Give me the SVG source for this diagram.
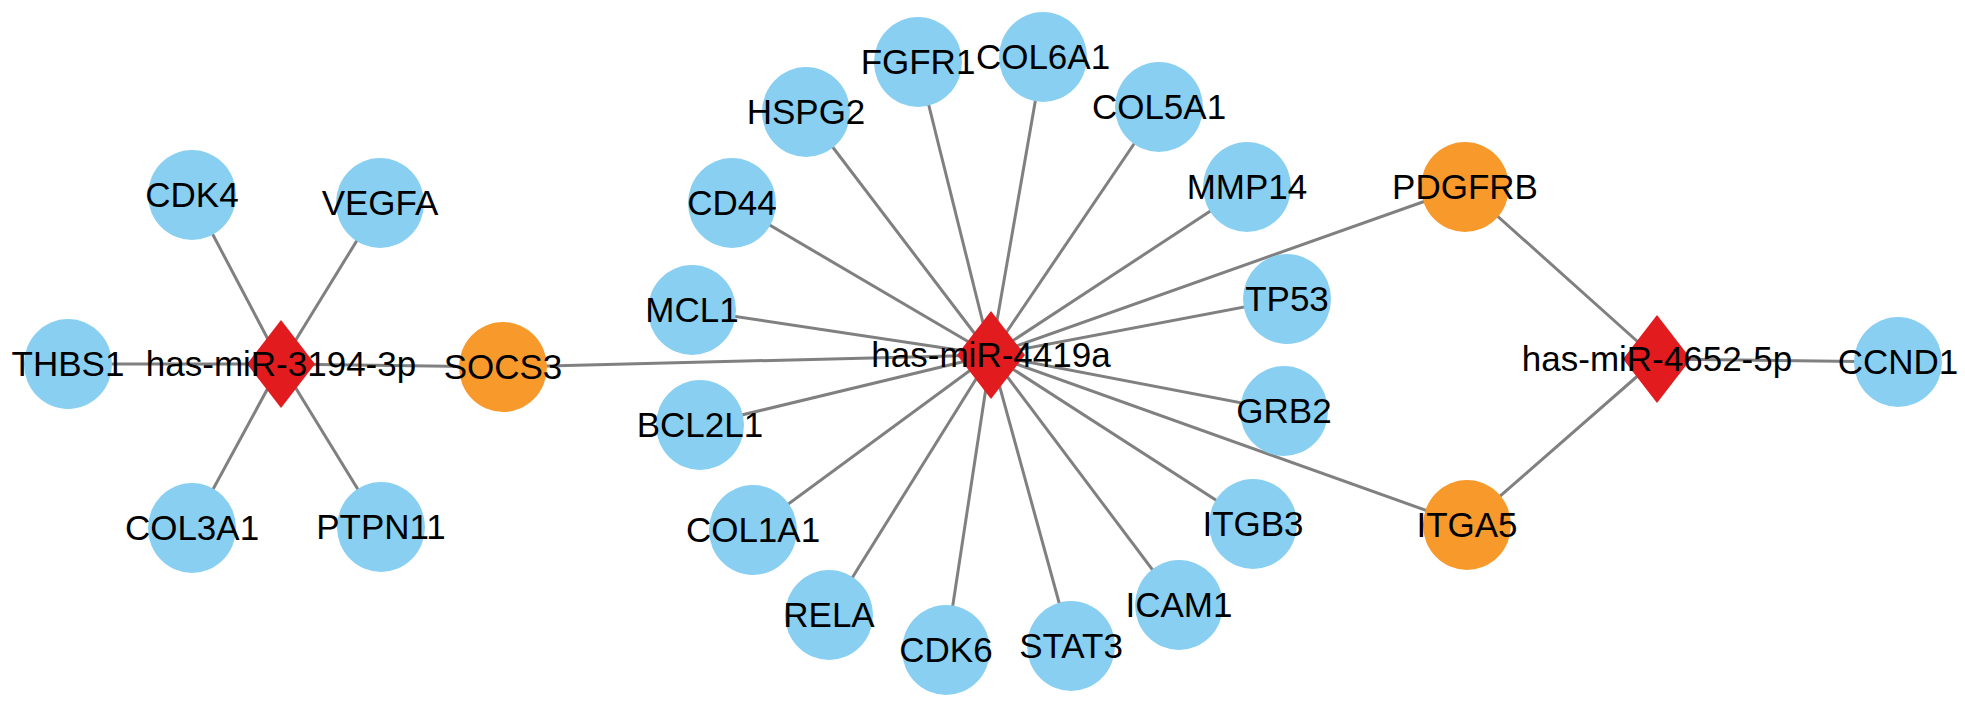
<svg xmlns="http://www.w3.org/2000/svg" width="1965" height="712" viewBox="0 0 1965 712">
<style>
.e{stroke:#808080;stroke-width:3;fill:none}
.g{fill:#89CFF1}
.o{fill:#F8992B}
.m{fill:#E21B1E}
text{font-family:"Liberation Sans",Arial,sans-serif;font-size:35px;fill:#000;text-anchor:middle}
</style>
<rect width="1965" height="712" fill="#fff"/>
<g id="edges">
<line class="e" x1="281" y1="364" x2="68" y2="364"/>
<line class="e" x1="281" y1="364" x2="192" y2="195"/>
<line class="e" x1="281" y1="364" x2="380" y2="203"/>
<line class="e" x1="281" y1="364" x2="192" y2="528"/>
<line class="e" x1="281" y1="364" x2="381" y2="527"/>
<line class="e" x1="281" y1="364" x2="503" y2="367"/>
<line class="e" x1="991" y1="355" x2="503" y2="367"/>
<line class="e" x1="991" y1="355" x2="806" y2="112"/>
<line class="e" x1="991" y1="355" x2="918" y2="62"/>
<line class="e" x1="991" y1="355" x2="1043" y2="57"/>
<line class="e" x1="991" y1="355" x2="1159" y2="107"/>
<line class="e" x1="991" y1="355" x2="1247" y2="187"/>
<line class="e" x1="991" y1="355" x2="732" y2="203"/>
<line class="e" x1="991" y1="355" x2="692" y2="310"/>
<line class="e" x1="991" y1="355" x2="1287" y2="299"/>
<line class="e" x1="991" y1="355" x2="700" y2="425"/>
<line class="e" x1="991" y1="355" x2="1284" y2="411"/>
<line class="e" x1="991" y1="355" x2="753" y2="530"/>
<line class="e" x1="991" y1="355" x2="1253" y2="524"/>
<line class="e" x1="991" y1="355" x2="829" y2="615"/>
<line class="e" x1="991" y1="355" x2="946" y2="650"/>
<line class="e" x1="991" y1="355" x2="1071" y2="646"/>
<line class="e" x1="991" y1="355" x2="1179" y2="605"/>
<line class="e" x1="991" y1="355" x2="1465" y2="187"/>
<line class="e" x1="991" y1="355" x2="1467" y2="525"/>
<line class="e" x1="1657" y1="359" x2="1465" y2="187"/>
<line class="e" x1="1657" y1="359" x2="1467" y2="525"/>
<line class="e" x1="1657" y1="359" x2="1898" y2="362"/>
</g>
<g id="n-THBS1"><ellipse class="g" cx="68" cy="364" rx="44" ry="45"/><text x="68" y="376">THBS1</text></g>
<g id="n-CDK4"><ellipse class="g" cx="192" cy="195" rx="44" ry="45"/><text x="192" y="207">CDK4</text></g>
<g id="n-VEGFA"><ellipse class="g" cx="380" cy="203" rx="44" ry="45"/><text x="380" y="215">VEGFA</text></g>
<g id="n-COL3A1"><ellipse class="g" cx="192" cy="528" rx="44" ry="45"/><text x="192" y="540">COL3A1</text></g>
<g id="n-PTPN11"><ellipse class="g" cx="381" cy="527" rx="44" ry="45"/><text x="381" y="539">PTPN11</text></g>
<g id="n-SOCS3"><ellipse class="o" cx="503" cy="367" rx="44" ry="45"/><text x="503" y="379">SOCS3</text></g>
<g id="n-HSPG2"><ellipse class="g" cx="806" cy="112" rx="44" ry="45"/><text x="806" y="124">HSPG2</text></g>
<g id="n-FGFR1"><ellipse class="g" cx="918" cy="62" rx="44" ry="45"/><text x="918" y="74">FGFR1</text></g>
<g id="n-COL6A1"><ellipse class="g" cx="1043" cy="57" rx="44" ry="45"/><text x="1043" y="69">COL6A1</text></g>
<g id="n-COL5A1"><ellipse class="g" cx="1159" cy="107" rx="44" ry="45"/><text x="1159" y="119">COL5A1</text></g>
<g id="n-MMP14"><ellipse class="g" cx="1247" cy="187" rx="44" ry="45"/><text x="1247" y="199">MMP14</text></g>
<g id="n-CD44"><ellipse class="g" cx="732" cy="203" rx="44" ry="45"/><text x="732" y="215">CD44</text></g>
<g id="n-MCL1"><ellipse class="g" cx="692" cy="310" rx="44" ry="45"/><text x="692" y="322">MCL1</text></g>
<g id="n-TP53"><ellipse class="g" cx="1287" cy="299" rx="44" ry="45"/><text x="1287" y="311">TP53</text></g>
<g id="n-BCL2L1"><ellipse class="g" cx="700" cy="425" rx="44" ry="45"/><text x="700" y="437">BCL2L1</text></g>
<g id="n-GRB2"><ellipse class="g" cx="1284" cy="411" rx="44" ry="45"/><text x="1284" y="423">GRB2</text></g>
<g id="n-COL1A1"><ellipse class="g" cx="753" cy="530" rx="44" ry="45"/><text x="753" y="542">COL1A1</text></g>
<g id="n-ITGB3"><ellipse class="g" cx="1253" cy="524" rx="44" ry="45"/><text x="1253" y="536">ITGB3</text></g>
<g id="n-RELA"><ellipse class="g" cx="829" cy="615" rx="44" ry="45"/><text x="829" y="627">RELA</text></g>
<g id="n-CDK6"><ellipse class="g" cx="946" cy="650" rx="44" ry="45"/><text x="946" y="662">CDK6</text></g>
<g id="n-STAT3"><ellipse class="g" cx="1071" cy="646" rx="44" ry="45"/><text x="1071" y="658">STAT3</text></g>
<g id="n-ICAM1"><ellipse class="g" cx="1179" cy="605" rx="44" ry="45"/><text x="1179" y="617">ICAM1</text></g>
<g id="n-PDGFRB"><ellipse class="o" cx="1465" cy="187" rx="44" ry="45"/><text x="1465" y="199">PDGFRB</text></g>
<g id="n-ITGA5"><ellipse class="o" cx="1467" cy="525" rx="44" ry="45"/><text x="1467" y="537">ITGA5</text></g>
<g id="n-CCND1"><ellipse class="g" cx="1898" cy="362" rx="44" ry="45"/><text x="1898" y="374">CCND1</text></g>
<g id="n-mir3194"><polygon class="m" points="281,320 315,364 281,408 247,364"/><text x="281" y="376">has-miR-3194-3p</text></g>
<g id="n-mir4419a"><polygon class="m" points="991,311 1025,355 991,399 957,355"/><text x="991" y="367">has-miR-4419a</text></g>
<g id="n-mir4652"><polygon class="m" points="1657,315 1691,359 1657,403 1623,359"/><text x="1657" y="371">has-miR-4652-5p</text></g>
</svg>
